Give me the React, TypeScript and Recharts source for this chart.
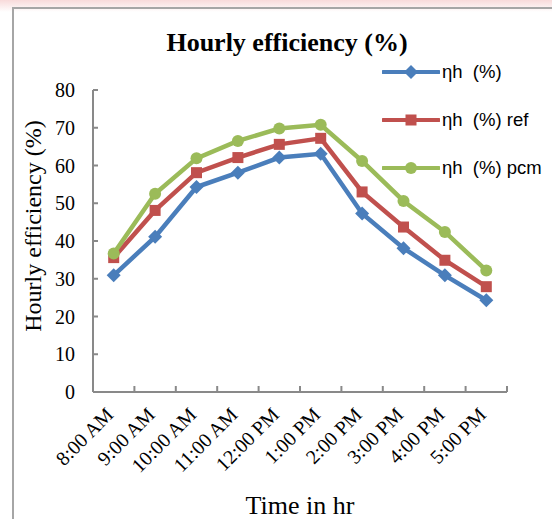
import React from 'react';
import { LineChart, Line, XAxis, YAxis, Label } from 'recharts';

// Hourly efficiency readings, one per hour
const times = ['8:00 AM', '9:00 AM', '10:00 AM', '11:00 AM', '12:00 PM', '1:00 PM', '2:00 PM', '3:00 PM', '4:00 PM', '5:00 PM'];
const etaH = [30.9, 41.1, 54.3, 58.1, 62.1, 63.1, 47.3, 38.1, 30.9, 24.3];
const etaHRef = [35.6, 48.1, 58.1, 62.1, 65.6, 67.2, 53.0, 43.7, 34.9, 27.9];
const etaHPcm = [36.7, 52.5, 61.9, 66.5, 69.8, 70.8, 61.2, 50.6, 42.4, 32.2];
const yTicks = [0, 10, 20, 30, 40, 50, 60, 70, 80];

const data = times.map((t, i) => ({ time: t, a: etaH[i], b: etaHRef[i], c: etaHPcm[i] }));

const BLUE = '#4a7ebb';
const RED = '#c0504d';
const GREEN = '#9bbb59';
const AXIS = '#898989';
const SERIF = '"Liberation Serif", "Times New Roman", serif';
const SANS = '"Liberation Sans", Arial, sans-serif';

const Diamond = ({ cx, cy, fill }: any) => (
  <path d={`M${cx},${cy - 7} L${cx + 7},${cy} L${cx},${cy + 7} L${cx - 7},${cy} Z`} fill={fill} />
);
const Square = ({ cx, cy, fill }: any) => (
  <rect x={cx - 5.5} y={cy - 5.5} width={11} height={11} fill={fill} />
);
const Circle = ({ cx, cy, fill }: any) => <circle cx={cx} cy={cy} r={6} fill={fill} />;

const series = [
  { key: 'a', name: 'ηh  (%)', color: BLUE, Dot: Diamond },
  { key: 'b', name: 'ηh  (%) ref', color: RED, Dot: Square },
  { key: 'c', name: 'ηh  (%) pcm', color: GREEN, Dot: Circle },
];

// category label plus tick marks on the band boundaries (ticks point up into the plot)
const XTick = ({ x, y, payload, index, visibleTicksCount }: any) => {
  const half = payload.offset || 0;
  const last = index === visibleTicksCount - 1;
  return (
    <g>
      <line x1={x - half} y1={y} x2={x - half} y2={y - 6} stroke={AXIS} strokeWidth={2} />
      {last && <line x1={x + half} y1={y} x2={x + half} y2={y - 6} stroke={AXIS} strokeWidth={2} />}
      <g transform={`translate(${x + 1},${y + 24}) rotate(-45)`}>
        <text x={0} y={0} textAnchor="end" fontFamily={SERIF} fontSize={20} fill="#000">
          {payload.value}
        </text>
      </g>
    </g>
  );
};

const LegendBox = () => (
  <div style={{ position: 'absolute', left: 382, top: 48 }}>
    {series.map((s) => (
      <div key={s.key} style={{ display: 'flex', alignItems: 'center', height: 48 }}>
        <svg width={58} height={16}>
          <line x1={1} y1={8} x2={57} y2={8} stroke={s.color} strokeWidth={4} strokeLinecap="round" />
          <s.Dot cx={29} cy={8} fill={s.color} />
        </svg>
        <span style={{ fontFamily: SANS, fontSize: 18.5, color: '#000', whiteSpace: 'pre', marginLeft: 2 }}>{s.name}</span>
      </div>
    ))}
  </div>
);

const YLabel = ({ viewBox }: any) => {
  const x = 33;
  const y = viewBox.y + viewBox.height / 2 - 15;
  return (
    <text x={x} y={y} transform={`rotate(-90, ${x}, ${y})`} textAnchor="middle" dominantBaseline="central" fontFamily={SERIF} fontSize={24} fill="#000">
      Hourly efficiency (%)
    </text>
  );
};

export default function App() {
  return (
    <div style={{ position: 'absolute', left: 0, top: 0, width: 552, height: 519, overflow: 'hidden', background: '#fff' }}>
      <div style={{ position: 'absolute', left: 0, top: 0, width: 552, height: 12, background: 'linear-gradient(to bottom, rgba(235,150,150,0.35), rgba(255,255,255,0))' }} />
      <div style={{ position: 'absolute', left: 12, top: 7, width: 620, height: 620, border: '2px solid #a6a6a6' }} />
      <div style={{ position: 'absolute', left: 0, width: 574, top: 28, textAlign: 'center', fontFamily: SERIF, fontWeight: 'bold', fontSize: 26, color: '#000' }}>
        Hourly efficiency (%)
      </div>
      <div style={{ position: 'absolute', left: 0, top: 0 }}>
        <LineChart width={552} height={519} data={data} margin={{ top: 90, right: 45, left: 0, bottom: 0 }}>
          <XAxis dataKey="time" scale="band" stroke={AXIS} strokeWidth={2} tickLine={false} tickSize={0} tickMargin={0}
            height={127} interval={0} tick={<XTick />}>
            <Label value="Time in hr" position="insideBottom" offset={5} fontFamily={SERIF} fontSize={26} fill="#000" />
          </XAxis>
          <YAxis domain={[0, 80]} ticks={yTicks} width={93} tickSize={-5} tickMargin={23} stroke={AXIS} strokeWidth={2}
            tick={{ fontFamily: SERIF, fontSize: 20, fill: '#000' }}>
            <Label content={<YLabel />} />
          </YAxis>
          {series.map((s) => (
            <Line key={s.key} dataKey={s.key} name={s.name} stroke={s.color} strokeWidth={4.5}
              dot={<s.Dot fill={s.color} />} activeDot={false} isAnimationActive={false} />
          ))}
        </LineChart>
      </div>
      <LegendBox />
    </div>
  );
}
